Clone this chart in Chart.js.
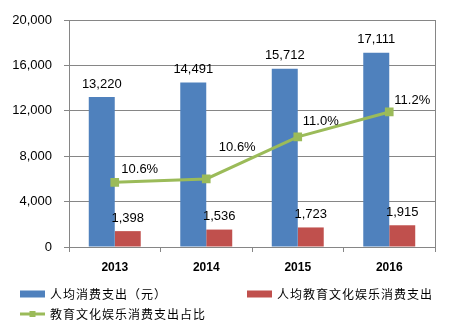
<!DOCTYPE html>
<html>
<head>
<meta charset="utf-8">
<script src="https://cdn.jsdelivr.net/npm/chart.js@4.4.1/dist/chart.umd.min.js"></script>
<style>
  html, body { margin: 0; padding: 0; background: #fff; }
</style>
</head>
<body>
<canvas id="myChart" width="449" height="332"></canvas>
<script>
// Data
var years = ["2013", "2014", "2015", "2016"];
var spending = [13220, 14491, 15712, 17111];
var eduSpending = [1398, 1536, 1723, 1915];
var eduShare = [10.57, 10.60, 10.97, 11.19];
var yTicks = [0, 4000, 8000, 12000, 16000, 20000];

var gridColor = '#868686';
var numFont = '"Liberation Sans", Arial, sans-serif';

// Labels above bars and beside line points
var labelPlugin = {
    id: 'valueLabels',
    afterDatasetsDraw: function (chart) {
        var ctx = chart.ctx;
        ctx.save();
        ctx.fillStyle = '#000';
        ctx.font = '13px ' + numFont;
        ctx.textAlign = 'center';
        ctx.textBaseline = 'middle';
        [0, 1].forEach(function (di) {
            var meta = chart.getDatasetMeta(di);
            meta.data.forEach(function (el, i) {
                var v = chart.data.datasets[di].data[i];
                ctx.fillText(v.toLocaleString('en-US'), el.x, el.y - 13);
            });
        });
        // line labels, placed by hand like the original
        var offs = [[25, -13], [31, -31], [23, -15], [23, -12]];
        var lineMeta = chart.getDatasetMeta(2);
        lineMeta.data.forEach(function (el, i) {
            var v = chart.data.datasets[2].data[i];
            ctx.fillText(v.toFixed(1) + '%', el.x + offs[i][0], el.y + offs[i][1]);
        });
        ctx.restore();
    }
};

// Legend drawn by hand (two columns, left aligned)
var legendPlugin = {
    id: 'sideLegend',
    afterDraw: function (chart) {
        var ctx = chart.ctx;
        var spots = [[20, 294], [247, 294], [20, 314]];
        ctx.save();
        ctx.font = '12px "Noto Sans CJK SC", sans-serif';
        ctx.letterSpacing = '1px';
        ctx.textBaseline = 'middle';
        ctx.textAlign = 'left';
        chart.data.datasets.forEach(function (ds, i) {
            var x = spots[i][0], y = spots[i][1];
            if (ds.type === 'line') {
                ctx.strokeStyle = ds.borderColor;
                ctx.lineWidth = 3;
                ctx.beginPath();
                ctx.moveTo(x, y);
                ctx.lineTo(x + 25, y);
                ctx.stroke();
                ctx.fillStyle = ds.borderColor;
                ctx.fillRect(x + 9.5, y - 3, 6, 6);
            } else {
                ctx.fillStyle = ds.backgroundColor;
                ctx.fillRect(x, y - 3.5, 25, 7);
            }
            ctx.fillStyle = '#000';
            ctx.fillText(ds.label, x + 30, y);
        });
        ctx.restore();
    }
};

var ctx = document.getElementById('myChart').getContext('2d');
var chart = new Chart(ctx, {
    type: 'bar',
    data: {
        labels: years,
        datasets: [{
                label: "人均消费支出（元）",
                backgroundColor: '#4F81BD',
                data: spending,
                order: 1,
                yAxisID: 'y'
            },
            {
                label: "人均教育文化娱乐消费支出",
                backgroundColor: '#C0504D',
                data: eduSpending,
                order: 1,
                yAxisID: 'y'
            },
            {
                type: 'line',
                label: "教育文化娱乐消费支出占比",
                borderColor: '#9BBB59',
                backgroundColor: '#9BBB59',
                borderWidth: 3,
                pointStyle: 'rect',
                pointRadius: 4,
                data: eduShare,
                order: 0,
                yAxisID: 'y1'
            }
        ]
    },
    options: {
        responsive: false,
        animation: false,
        categoryPercentage: 0.568,
        barPercentage: 1.0,
        layout: { padding: { left: 0, right: 14, top: 20, bottom: 55 } },
        plugins: {
            legend: { display: false },
            tooltip: { enabled: false }
        },
        scales: {
            x: {
                grid: {
                    offset: true,
                    drawOnChartArea: false,
                    color: gridColor,
                    tickLength: 5
                },
                border: { color: gridColor },
                ticks: {
                    color: '#000',
                    padding: 8,
                    font: { family: numFont, size: 12, weight: 'bold' }
                },
                afterFit: function (s) { s.height = 30; }
            },
            y: {
                min: 0,
                max: 20000,
                afterBuildTicks: function (s) {
                    s.ticks = yTicks.map(function (v) { return { value: v }; });
                },
                grid: { color: gridColor, tickLength: 5 },
                border: { color: gridColor },
                ticks: {
                    color: '#000',
                    padding: 12,
                    font: { family: numFont, size: 13 },
                    callback: function (v) { return v.toLocaleString('en-US'); }
                },
                afterFit: function (s) { s.width = 69; }
            },
            y1: {
                position: 'right',
                min: 10,
                max: 12,
                grid: { drawOnChartArea: false, drawTicks: false },
                border: { color: gridColor },
                ticks: { display: false },
                afterFit: function (s) { s.width = 0; }
            }
        }
    },
    plugins: [labelPlugin, legendPlugin]
});
</script>
</body>
</html>
